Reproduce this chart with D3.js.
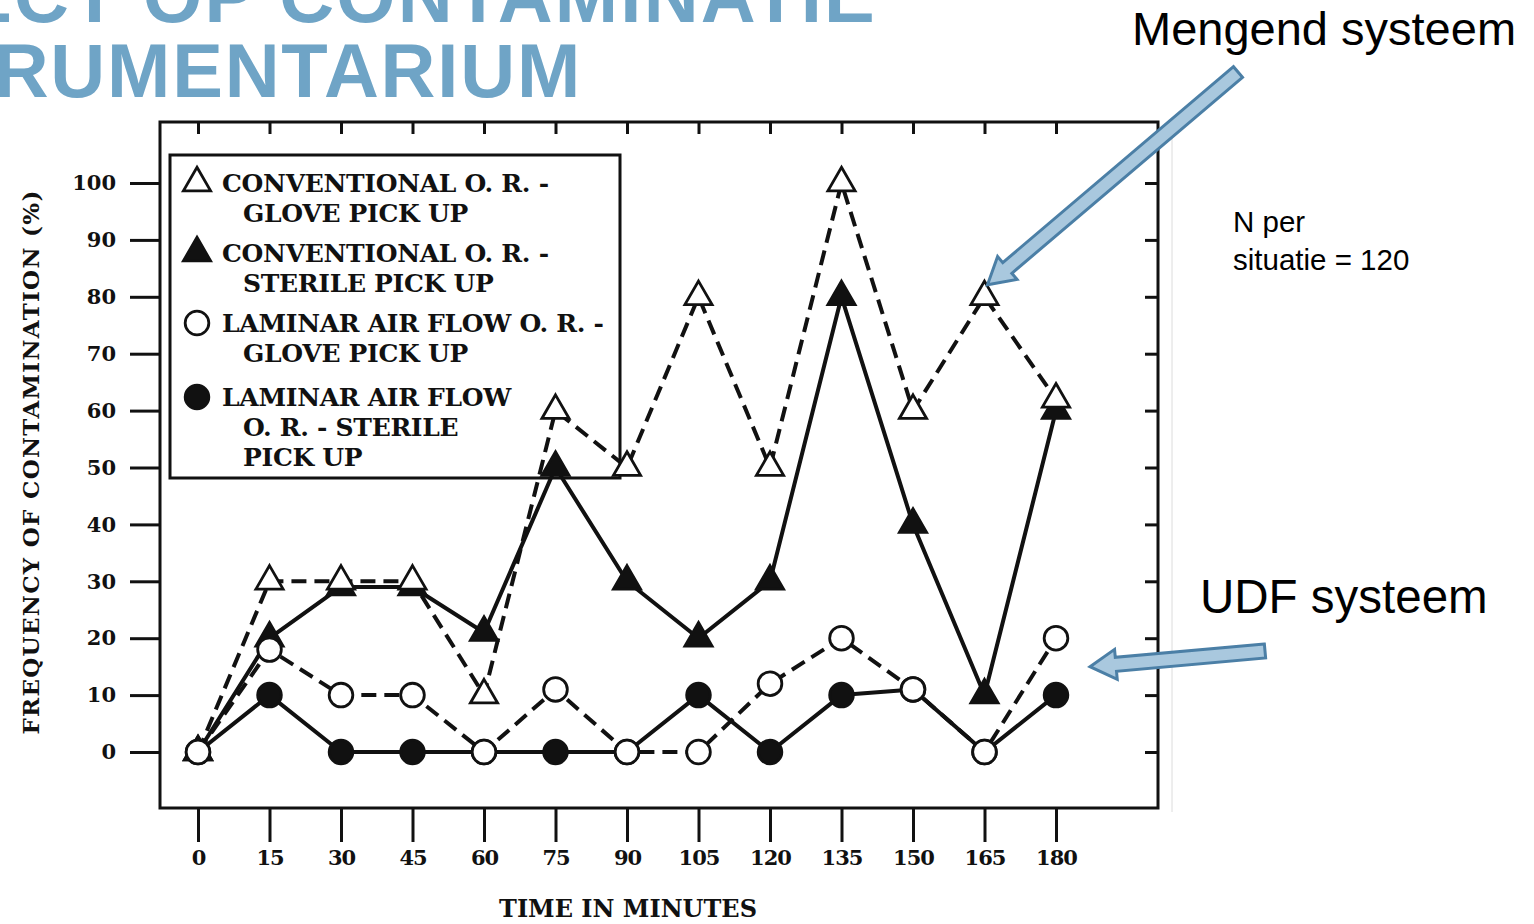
<!DOCTYPE html>
<html><head><meta charset="utf-8">
<script src="https://cdn.jsdelivr.net/npm/d3@7"></script>
<style>
html,body{margin:0;padding:0;background:#fff;overflow:hidden;}
svg{display:block;}
</style></head>
<body>
<svg id="c" width="1534" height="924"></svg>
<script>
// ---- data ----
const times = [0, 15, 30, 45, 60, 75, 90, 105, 120, 135, 150, 165, 180];
const yTicks = [0, 10, 20, 30, 40, 50, 60, 70, 80, 90, 100];
const convGlove   = [0, 30, 30, 30, 10, 60, 50, 80, 50, 100, 60, 80, 62];
const convSterile = [0, 20, 29, 29, 21, 50, 30, 20, 30, 80, 40, 10, 60];
const lafGlove    = [0, 18, 10, 10, 0, 11, 0, 0, 12, 20, 11, 0, 20];
const lafSterile  = [0, 10, 0, 0, 0, 0, 0, 10, 0, 10, 11, 0, 10];
const seriesNames = ["CONVENTIONAL O. R. -|GLOVE PICK UP",
                     "CONVENTIONAL O. R. -|STERILE PICK UP",
                     "LAMINAR AIR FLOW O. R. -|GLOVE PICK UP",
                     "LAMINAR AIR FLOW|O. R. - STERILE|PICK UP"];
const titleLines = ["EFFECT OP CONTAMINATIE", "INSTRUMENTARIUM"];
const xTitle = "TIME IN MINUTES";
const yTitle = "FREQUENCY OF CONTAMINATION (%)";

const svg = d3.select("#c");
const serif = "'DejaVu Serif', serif";
const sans = "'Liberation Sans', Arial, sans-serif";

// slide title
svg.append("text").attr("x", 877).attr("y", 22).attr("text-anchor", "end")
  .attr("font-family", sans).attr("font-weight", "bold").attr("letter-spacing", 2.2)
  .attr("font-size", 76).attr("fill", "#6fa4c6").text(titleLines[0]);
svg.append("text").attr("x", 582).attr("y", 97).attr("text-anchor", "end")
  .attr("font-family", sans).attr("font-weight", "bold").attr("letter-spacing", 1.8)
  .attr("font-size", 76).attr("fill", "#6fa4c6").text(titleLines[1]);

// scales
const L = 160, T = 122, R = 1158, B = 808;
const x = d3.scaleLinear().domain([0, 180]).range([198, 1056]);
const y = d3.scaleLinear().domain([0, 100]).range([752, 183]);

// scan edge
svg.append("line").attr("x1", 1172).attr("x2", 1172).attr("y1", 118).attr("y2", 812)
  .attr("stroke", "#dcdcdc").attr("stroke-width", 1);

// frame
svg.append("rect").attr("x", L).attr("y", T).attr("width", R - L).attr("height", B - T)
  .attr("fill", "none").attr("stroke", "#111").attr("stroke-width", 3);

function styleAxis(g, size) {
  g.select(".domain").remove();
  g.selectAll(".tick line").attr("stroke", "#111").attr("stroke-width", 3);
  g.selectAll(".tick text").attr("font-family", serif).attr("font-weight", "bold")
    .attr("font-size", size).attr("fill", "#111");
}
// y axis left
const gy = svg.append("g").attr("transform", `translate(${L},0)`)
  .call(d3.axisLeft(y).tickValues(yTicks).tickSize(30).tickPadding(14));
styleAxis(gy, 21);
// y axis right (inward)
const gyr = svg.append("g").attr("transform", `translate(${R},0)`)
  .call(d3.axisRight(y).tickValues(yTicks).tickSize(-13).tickFormat(""));
styleAxis(gyr, 1);
// x axis bottom
const gx = svg.append("g").attr("transform", `translate(0,${B})`)
  .call(d3.axisBottom(x).tickValues(times).tickSize(34).tickPadding(8));
styleAxis(gx, 21);
gx.selectAll(".tick text").attr("letter-spacing", -1);
// x axis top (inward)
const gxt = svg.append("g").attr("transform", `translate(0,${T})`)
  .call(d3.axisTop(x).tickValues(times).tickSize(-12).tickFormat(""));
styleAxis(gxt, 1);

// axis titles
svg.append("text").attr("x", 628).attr("y", 917).attr("text-anchor", "middle")
  .attr("font-family", serif).attr("font-weight", "bold").attr("font-size", 24)
  .attr("fill", "#111").attr("letter-spacing", 0).text(xTitle);
svg.append("text").attr("transform", "translate(39,462) rotate(-90)").attr("text-anchor", "middle")
  .attr("font-family", serif).attr("font-weight", "bold").attr("font-size", 23)
  .attr("fill", "#111").attr("letter-spacing", 1.3).text(yTitle);

// legend box
svg.append("path").attr("d", "M170,478 L170,155 L620,155 L620,478 Z")
  .attr("fill", "#fff").attr("stroke", "#111").attr("stroke-width", 3);

// series
const series = [
  {vals: convGlove, dash: "15,8", sym: d3.symbolTriangle, fill: "#fff"},
  {vals: convSterile, dash: null, sym: d3.symbolTriangle, fill: "#111"},
  {vals: lafGlove, dash: "15,8", sym: d3.symbolCircle, fill: "#fff"},
  {vals: lafSterile, dash: null, sym: d3.symbolCircle, fill: "#111"}
];
const line = d3.line().x((d, i) => x(times[i])).y(d => y(d));
series.forEach(s => {
  svg.append("path").attr("d", line(s.vals)).attr("fill", "none")
    .attr("stroke", "#111").attr("stroke-width", 4)
    .attr("stroke-dasharray", s.dash).attr("stroke-linejoin", "round");
});
function symSize(s) { return s.sym === d3.symbolTriangle ? 320 : 440; }
// filled markers first, open on top
[1, 3, 0, 2].forEach(k => {
  const s = series[k];
  svg.append("g").selectAll("path").data(s.vals).join("path")
    .attr("transform", (d, i) => `translate(${x(times[i])},${y(d)})`)
    .attr("d", d3.symbol().type(s.sym).size(symSize(s)))
    .attr("fill", s.fill).attr("stroke", "#111").attr("stroke-width", 2.8);
});

// legend content
const legY = [183, 253, 323, 397];
const lineGap = 30;
series.forEach((s, k) => {
  svg.append("path").attr("transform", `translate(197,${legY[k]})`)
    .attr("d", d3.symbol().type(s.sym).size(symSize(s)))
    .attr("fill", s.fill).attr("stroke", "#111").attr("stroke-width", 2.8);
  seriesNames[k].split("|").forEach((t, j) => {
    svg.append("text").attr("x", j === 0 ? 222 : 243).attr("y", legY[k] + 9 + j * lineGap)
      .attr("font-family", serif).attr("font-weight", "bold").attr("font-size", 25)
      .attr("fill", "#111").attr("letter-spacing", -0.3).text(t);
  });
});

// annotations
function blockArrow(x0, y0, x1, y1) {
  const dx = x1 - x0, dy = y1 - y0, len = Math.hypot(dx, dy);
  const ux = dx / len, uy = dy / len, nx = -uy, ny = ux;
  const sw = 7, hw = 15, hl = 26;
  const bx = x1 - ux * hl, by = y1 - uy * hl;
  const pts = [
    [x0 + nx * sw, y0 + ny * sw], [bx + nx * sw, by + ny * sw], [bx + nx * hw, by + ny * hw],
    [x1, y1], [bx - nx * hw, by - ny * hw], [bx - nx * sw, by - ny * sw], [x0 - nx * sw, y0 - ny * sw]
  ];
  svg.append("polygon").attr("points", pts.map(p => p.join(",")).join(" "))
    .attr("fill", "#a9c8de").attr("stroke", "#4b7fa6").attr("stroke-width", 3)
    .attr("stroke-linejoin", "miter");
}
blockArrow(1238, 72, x(165) + 3, y(80) - 12);
blockArrow(1265, 651, x(180) + 34, y(15));

svg.append("text").attr("x", 1132).attr("y", 45).attr("font-family", sans)
  .attr("font-size", 47).attr("fill", "#000").text("Mengend systeem");
svg.append("text").attr("x", 1200).attr("y", 613).attr("font-family", sans)
  .attr("font-size", 47.5).attr("fill", "#000").text("UDF systeem");
svg.append("text").attr("x", 1233).attr("y", 232).attr("font-family", sans)
  .attr("font-size", 29.5).attr("fill", "#000").text("N per");
svg.append("text").attr("x", 1233).attr("y", 270).attr("font-family", sans)
  .attr("font-size", 29.5).attr("fill", "#000").text("situatie = 120");
</script>
</body></html>
